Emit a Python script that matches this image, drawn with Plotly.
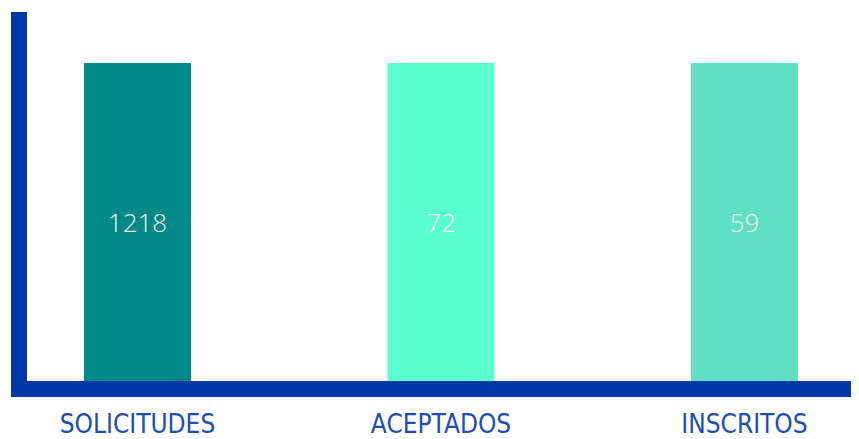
import plotly.graph_objects as go

categories = ["SOLICITUDES", "ACEPTADOS", "INSCRITOS"]
values = [1218, 72, 59]
colors = ["#008A87", "#5BFFCF", "#5FE0C5"]

OFF = 8  # page body margin
W, H = 859 - OFF, 439 - OFF
AXIS_COLOR = "#0038A8"
LABEL_COLOR = "#1E4DB5"
FILL = 0.862  # fraction of plot height each bar occupies (each bar on its own scale)


def px(x):
    return (x - OFF) / W


def py(y):
    return (H - (y - OFF)) / H


fig = go.Figure()
yaxes = ["y", "y2", "y3"]
for i, (cat, val, col) in enumerate(zip(categories, values, colors)):
    fig.add_trace(go.Bar(
        x=[cat], y=[val], yaxis=yaxes[i],
        marker=dict(color=col, line=dict(width=0)),
        width=0.3525,
        text=[str(val)], textposition="inside", insidetextanchor="middle",
        textfont=dict(family="Open Sans", size=26, color="#F4F4F4", weight=300),
        constraintext="none", showlegend=False, hoverinfo="x+y",
    ))

# plot spans x 27..859 px, y 12..381 px; category centres at 137.5, 442.5, 744.5
scale = 303.5
rng = [(27 - 137.5) / scale, (859 - 137.5) / scale]

layout_y = dict(visible=False, showgrid=False, zeroline=False, domain=[py(381), py(12)],
                fixedrange=True, automargin=False)
fig.update_layout(
    width=W, height=H,
    margin=dict(l=0, r=0, t=0, b=0, autoexpand=False),
    paper_bgcolor="white", plot_bgcolor="white",
    barmode="overlay",
    xaxis=dict(domain=[px(27), 1.0], range=rng, showgrid=False, zeroline=False,
               showline=False, ticks="", type="category", automargin=False,
               tickfont=dict(family="DejaVu Sans Condensed, Roboto", size=26, color=LABEL_COLOR, weight=300),
               ticklabelstandoff=25),
    yaxis=dict(range=[0, values[0] / FILL], **layout_y),
    yaxis2=dict(range=[0, values[1] / FILL], overlaying="y", **layout_y),
    yaxis3=dict(range=[0, values[2] / FILL], overlaying="y", **layout_y),
    shapes=[
        dict(type="rect", xref="paper", yref="paper", x0=px(11), x1=px(27),
             y0=py(397), y1=py(12), fillcolor=AXIS_COLOR, line=dict(width=0), layer="above"),
        dict(type="rect", xref="paper", yref="paper", x0=px(11), x1=px(853),
             y0=py(397), y1=py(381), fillcolor=AXIS_COLOR, line=dict(width=0), layer="above"),
    ],
)

fig.write_html("out.html")
